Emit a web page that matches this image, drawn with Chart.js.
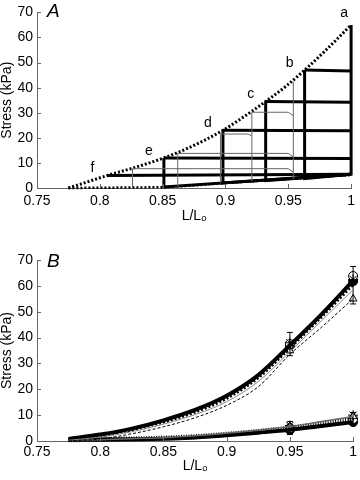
<!DOCTYPE html>
<html lang="en">
<head>
<meta charset="UTF-8">
<title>Stress vs L/Lo</title>
<script src="https://cdn.jsdelivr.net/npm/chart.js"></script>
<style>
  html, body { margin: 0; padding: 0; background: #fff; }
  .panel { position: relative; width: 360px; height: 240px; }
</style>
</head>
<body>
<div class="panel"><canvas id="chartA"></canvas></div>
<div class="panel"><canvas id="chartB"></canvas></div>
<script>
// shared axis ticks
const xTicks = [0.75, 0.8, 0.85, 0.9, 0.95, 1];
const yTicks = [0, 10, 20, 30, 40, 50, 60, 70];

// ---- panel A: stretch / release staircase
const envL = [0.775, 0.79, 0.806, 0.83, 0.851, 0.875, 0.898, 0.915, 0.932, 0.948, 0.963, 0.98, 1];
const envS = [0, 2.4, 5, 8.5, 12, 17, 23, 28.5, 34.5, 40.5, 47, 55, 65];
const baseL = [0.775, 0.85, 0.875, 0.9, 0.925, 0.95, 0.975, 1];
const baseS = [0, 0.3, 1, 2, 2.8, 3.6, 4.5, 5.2];
const stepNames = ['f', 'e', 'd', 'c', 'b', 'a'];
const stepL = [0.806, 0.851, 0.898, 0.932, 0.963, 1];
const stepS = [5, 12, 23, 34.5, 47, 65];
const stepEndS = [5.5, 11.8, 22.8, 34.2, 46.6, null];
const stepFootS = [null, 0.4, 2, 2.9, 3.7, 5];
const releaseS = 5.5;
const thinL = [0.826, 0.862, 0.896, 0.921, 0.954];
const thinTopS = [7.7, 13.8, 21.5, 30.2, 42.5];
const thinFootS = [0.1, 0.4, 1.9, 2.8, 3.6];
const thinBendL = [0.95, 0.95, 0.918, 0.95, null];
const thinEndL = [0.954, 0.954, 0.921, 0.954, null];
const thinEndS = [6.3, 12.4, 20.8, 28.8, null];

// ---- panel B: stress-length curves
const lengthB = [0.775, 0.8, 0.825, 0.85, 0.875, 0.9, 0.925, 0.95, 0.975, 1];
const activeSolid  = [0.8, 2.5, 4.8, 8, 12, 17.5, 25.5, 37, 49, 62];
const activeDotted = [0.5, 2, 4.3, 7.3, 11.2, 16.5, 24.5, 36, 48, 60.5];
const activeGray   = [0.3, 1.5, 3.6, 6.5, 10.2, 15.2, 23, 34.5, 46.5, 58.5];
const activeDashed = [0, 0.8, 2.8, 5.5, 9, 13.8, 21, 33.5, 44, 55];
const passiveSolid  = [0.6, 0.6, 0.7, 0.9, 1.4, 2.2, 3.2, 4.3, 5.8, 7.3];
const passiveDotted = [0.5, 0.6, 0.8, 1.1, 1.7, 2.6, 3.7, 5, 6.7, 8.5];
const passiveGray   = [0.3, 0.5, 0.9, 1.3, 2, 3, 4.2, 5.6, 7.5, 9.5];
const markL = [0.95, 1];
const hiOpenCircle = [37.5, 63.8];
const hiFilledCircle = [36.8, 61.8];
const hiTriangle = [35, 55];
const hiStar = [38, 62.5];
const hiErrLo = [33, 53];
const hiErrHi = [42, 67.5];
const loOpenCircle = [5, 8.5];
const loFilledCircle = [4.3, 7.3];
const loTriangle = [5.5, 9.5];
const loStar = [6, 10];
const loErrLo = [2.5, 6];
const loErrHi = [7.5, 11];

const FONT = "'Liberation Sans', Arial, sans-serif";
const seg = (xs, ys) => xs.map((x, i) => ({ x, y: ys[i] }));
function line(data, extra) {
  return Object.assign({ data, showLine: true, borderColor: '#000', borderWidth: 2.5,
    pointRadius: 0, fill: false, clip: false }, extra);
}
function marks(ys, style, fillColor, extra) {
  return Object.assign({ data: seg(markL, ys), showLine: false, pointStyle: style,
    pointRadius: 4.5, borderColor: '#000', backgroundColor: fillColor, pointBorderWidth: 1, clip: false }, extra);
}

// inward tick marks, like the original figure
const innerTicks = {
  id: 'innerTicks',
  afterDraw(chart) {
    const { ctx, chartArea: a, scales: { x, y } } = chart;
    ctx.save();
    ctx.strokeStyle = '#666';
    ctx.lineWidth = 1;
    ctx.beginPath();
    xTicks.forEach(v => { const p = Math.round(x.getPixelForValue(v)) + 0.5; ctx.moveTo(p, a.bottom); ctx.lineTo(p, a.bottom - 4); });
    yTicks.forEach(v => { const p = Math.round(y.getPixelForValue(v)) + 0.5; ctx.moveTo(a.left, p); ctx.lineTo(a.left + 4, p); });
    ctx.stroke();
    ctx.restore();
  }
};

// panel letter and step labels
const textMarks = {
  id: 'textMarks',
  afterDraw(chart, args, opts) {
    const { ctx, scales: { x, y } } = chart;
    ctx.save();
    ctx.fillStyle = '#000';
    ctx.font = 'italic 19px ' + FONT;
    ctx.textBaseline = 'top';
    ctx.fillText(opts.letter, 47, opts.letterY);
    if (opts.steps) {
      ctx.font = '14px ' + FONT;
      ctx.textAlign = 'center';
      ctx.textBaseline = 'middle';
      stepNames.forEach((n, i) => {
        const last = i === stepNames.length - 1;
        ctx.fillText(n, x.getPixelForValue(stepL[i]) + (last ? -7 : -15), y.getPixelForValue(stepS[i]) + (last ? -12 : -7));
      });
    }
    ctx.restore();
  }
};

function makeOptions(pad, xHeight, tickPad, titlePad, letter, letterY, steps) {
  const tickFont = { family: FONT, size: 14 };
  return {
    responsive: true,
    maintainAspectRatio: false,
    animation: false,
    layout: { padding: pad },
    plugins: {
      legend: { display: false },
      tooltip: { enabled: false },
      textMarks: { letter, letterY, steps }
    },
    scales: {
      x: {
        type: 'linear', min: 0.75, max: 1,
        afterBuildTicks: s => { s.ticks = xTicks.map(v => ({ value: v })); },
        afterFit: s => { s.height = xHeight; },
        grid: { display: true, drawOnChartArea: false, drawTicks: false },
        border: { display: true, color: '#666', width: 1 },
        ticks: { color: '#000', font: tickFont, padding: tickPad, maxRotation: 0, callback: v => String(v) },
        title: { display: true, text: 'L/Lₒ', color: '#000', font: tickFont, padding: { top: 0, bottom: titlePad } }
      },
      y: {
        min: 0, max: 70,
        afterBuildTicks: s => { s.ticks = yTicks.map(v => ({ value: v })); },
        afterFit: s => { s.width = 37; },
        grid: { display: true, drawOnChartArea: false, drawTicks: false },
        border: { display: true, color: '#666', width: 1 },
        ticks: { color: '#000', font: tickFont, padding: 4, callback: v => String(v) },
        title: { display: true, text: 'Stress (kPa)', color: '#000', font: { family: FONT, size: 14, lineHeight: 1.0 }, padding: { top: 0, bottom: 0 } }
      }
    }
  };
}

// ---- build panel A
const dsA = [];
thinL.forEach((l, i) => {
  const pts = [{ x: l, y: thinFootS[i] }, { x: l, y: thinTopS[i] }];
  if (thinEndL[i] !== null) pts.push({ x: thinBendL[i], y: thinTopS[i] }, { x: thinEndL[i], y: thinEndS[i] });
  dsA.push(line(pts, { borderColor: '#666', borderWidth: 1 }));
});
dsA.push(line(seg(baseL, baseS), { borderDash: [2, 2], borderWidth: 2.5 }));
stepL.forEach((l, i) => {
  if (stepEndS[i] !== null) dsA.push(line([{ x: l, y: stepS[i] }, { x: 1, y: stepEndS[i] }], { borderWidth: 3 }));
  if (stepFootS[i] !== null) dsA.push(line([{ x: l, y: stepS[i] }, { x: l, y: stepFootS[i] }, { x: 1, y: releaseS }], { borderWidth: 3 }));
});
dsA.push(line(seg(envL, envS), { borderDash: [2, 2], borderWidth: 3, cubicInterpolationMode: 'monotone' }));

new Chart(document.getElementById('chartA'), {
  type: 'scatter',
  data: { datasets: dsA },
  options: makeOptions({ top: 8, right: 5, left: 0, bottom: 0 }, 52, 5, 15, 'A', 2, true),
  plugins: [innerTicks, textMarks]
});

// ---- build panel B
const smooth = { cubicInterpolationMode: 'monotone' };
const dsB = [
  line(seg(lengthB, activeDashed), Object.assign({ borderWidth: 1, borderDash: [3, 2] }, smooth)),
  line(seg(lengthB, activeGray), Object.assign({ borderWidth: 1, borderColor: '#888' }, smooth)),
  line(seg(lengthB, activeDotted), Object.assign({ borderWidth: 3, borderDash: [2, 2] }, smooth)),
  line(seg(lengthB, activeSolid), Object.assign({ borderWidth: 4 }, smooth)),
  line(seg(lengthB, passiveGray), Object.assign({ borderWidth: 1.5, borderColor: '#666' }, smooth)),
  line(seg(lengthB, passiveDotted), Object.assign({ borderWidth: 5, borderDash: [1, 1.5] }, smooth)),
  line(seg(lengthB, passiveSolid), Object.assign({ borderWidth: 4 }, smooth))
];
markL.forEach((l, i) => {
  [[hiErrLo, hiErrHi], [loErrLo, loErrHi]].forEach(([lo, hi]) => {
    dsB.push(line([{ x: l, y: lo[i] }, { x: l, y: hi[i] }],
      { borderWidth: 1, pointRadius: 3, pointStyle: 'line', pointBorderColor: '#000', pointBorderWidth: 1 }));
  });
});
dsB.push(
  marks(hiTriangle, 'triangle', '#fff'),
  marks(hiStar, 'star', '#000', { pointRadius: 5 }),
  marks(hiOpenCircle, 'circle', '#fff'),
  marks(hiFilledCircle, 'circle', '#000'),
  marks(loTriangle, 'triangle', '#fff'),
  marks(loStar, 'star', '#000', { pointRadius: 5 }),
  marks(loOpenCircle, 'circle', '#fff'),
  marks(loFilledCircle, 'circle', '#000')
);

new Chart(document.getElementById('chartB'), {
  type: 'scatter',
  data: { datasets: dsB },
  options: makeOptions({ top: 20, right: 5, left: 0, bottom: 0 }, 39, 3, 5, 'B', 12, false),
  plugins: [innerTicks, textMarks]
});
</script>
</body>
</html>
